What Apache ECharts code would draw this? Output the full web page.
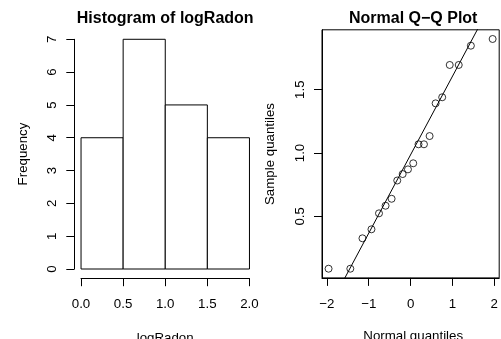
<!DOCTYPE html>
<html>
<head>
<meta charset="utf-8">
<script src="https://cdn.jsdelivr.net/npm/echarts@6/dist/echarts.min.js"></script>
<style>
html,body{margin:0;padding:0;background:#fff;overflow:hidden;}
#c{width:501px;height:339px;}
</style>
</head>
<body>
<div id="c"></div>
<script>
// ---- data ----
const histBreaks = [0, 0.5, 1.0, 1.5, 2.0];
const histCounts = [4, 7, 5, 4];
const histXTicks = [0, 0.5, 1.0, 1.5, 2.0];
const histYTicks = [0, 1, 2, 3, 4, 5, 6, 7];
// sorted sample values (logRadon)
const sampleQuantiles = [0.087, 0.087, 0.327, 0.398, 0.524, 0.584, 0.639, 0.783, 0.834, 0.871,
                         0.919, 1.069, 1.069, 1.134, 1.392, 1.440, 1.695, 1.695, 1.847, 1.900];
// theoretical normal quantiles, n = 20
const normalQuantiles = [-1.960, -1.440, -1.150, -0.935, -0.755, -0.598, -0.454, -0.319, -0.189, -0.063,
                         0.063, 0.189, 0.319, 0.454, 0.598, 0.755, 0.935, 1.150, 1.440, 1.960];
const qqXTicks = [-2, -1, 0, 1, 2];
const qqYTicks = [0.5, 1.0, 1.5];

// ---- derived ----
const histData = histCounts.map((c, i) => [histBreaks[i], histBreaks[i + 1], c]);
const qqPoints = sampleQuantiles.map((s, i) => [normalQuantiles[i], s]);
function quantile7(arr, p) {
  const a = arr.slice().sort((x, y) => x - y);
  const h = (a.length - 1) * p, lo = Math.floor(h);
  return a[lo] + (h - lo) * ((a[lo + 1] !== undefined ? a[lo + 1] : a[lo]) - a[lo]);
}
const q1 = quantile7(sampleQuantiles, 0.25), q3 = quantile7(sampleQuantiles, 0.75);
const zq = 0.6744898;
const slope = (q3 - q1) / (2 * zq);
const intercept = q1 + slope * zq;
const qqLine = [[-4, intercept - 4 * slope], [4, intercept + 4 * slope]];

const FONT = 'Liberation Sans, Arial, Helvetica, sans-serif';
const FS = 13.3;
const minusFmt = v => (v < 0 ? '\u2212' + Math.abs(v) : String(v));

const chart = echarts.init(document.getElementById('c'), null, {renderer: 'canvas'});
const axisLineStyle = {color: '#000', width: 1};
const tickBase = {show: true, inside: false, length: 8, lineStyle: {color: '#000', width: 1}};
const labelBase = {color: '#000', fontSize: FS, fontFamily: FONT};

chart.setOption({
  animation: false,
  backgroundColor: '#fff',
  grid: [
    {left: 74.3, top: 30.1, width: 181.9, height: 248.1},   // 0 hist data
    {left: 81, top: 30.1, width: 168.4, height: 248.1},     // 1 hist x axis
    {left: 74.3, top: 39.3, width: 100, height: 229.7},     // 2 hist y axis
    {left: 322, top: 29.8, width: 182.3, height: 248.1, show: true, borderColor: '#000', borderWidth: 1, backgroundColor: 'transparent'} // 3 qq
  ],
  xAxis: [
    {gridIndex: 0, type: 'value', min: -0.08, max: 2.08, show: false},
    {gridIndex: 1, type: 'value', min: 0, max: 2, interval: 0.5, position: 'bottom',
     axisLine: {show: true, onZero: false, lineStyle: axisLineStyle},
     axisTick: tickBase, splitLine: {show: false},
     axisLabel: Object.assign({}, labelBase, {margin: 20, formatter: v => v.toFixed(1), showMinLabel: true, showMaxLabel: true})},
    {gridIndex: 2, type: 'value', min: 0, max: 1, show: false},
    {gridIndex: 3, type: 'value', min: -2.1168, max: 2.1168, position: 'bottom',
     axisLine: {show: true, onZero: false, lineStyle: axisLineStyle},
     axisTick: Object.assign({}, tickBase, {customValues: qqXTicks}),
     splitLine: {show: false},
     axisLabel: Object.assign({}, labelBase, {margin: 20, customValues: qqXTicks, formatter: minusFmt})}
  ],
  yAxis: [
    {gridIndex: 0, type: 'value', min: -0.28, max: 7.28, show: false},
    {gridIndex: 1, type: 'value', min: 0, max: 1, show: false},
    {gridIndex: 2, type: 'value', min: 0, max: 7, interval: 1, position: 'left',
     axisLine: {show: true, onZero: false, lineStyle: axisLineStyle},
     axisTick: tickBase, splitLine: {show: false},
     axisLabel: Object.assign({}, labelBase, {margin: 15, rotate: 90, showMinLabel: true, showMaxLabel: true})},
    {gridIndex: 3, type: 'value', min: 0.0145, max: 1.9725, position: 'left',
     axisLine: {show: true, onZero: false, lineStyle: axisLineStyle},
     axisTick: Object.assign({}, tickBase, {customValues: qqYTicks}),
     splitLine: {show: false},
     axisLabel: Object.assign({}, labelBase, {margin: 15, rotate: 90, customValues: qqYTicks, formatter: v => v.toFixed(1)})}
  ],
  series: [
    {
      type: 'custom', xAxisIndex: 0, yAxisIndex: 0, data: histData,
      encode: {x: [0, 1], y: 2},
      renderItem: function (params, api) {
        const p0 = api.coord([api.value(0), api.value(2)]);
        const p1 = api.coord([api.value(1), 0]);
        return {type: 'rect', shape: {x: p0[0], y: p0[1], width: p1[0] - p0[0], height: p1[1] - p0[1]},
                style: {fill: '#fff', stroke: '#000', lineWidth: 1}};
      }
    },
    {
      type: 'line', xAxisIndex: 3, yAxisIndex: 3, data: qqLine, clip: true,
      symbol: 'none', lineStyle: {color: '#000', width: 1}, z: 2
    },
    {
      type: 'scatter', xAxisIndex: 3, yAxisIndex: 3, data: qqPoints, clip: false,
      symbol: 'circle', symbolSize: 7,
      itemStyle: {color: 'transparent', borderColor: '#000', borderWidth: 1}, z: 3
    }
  ],
  graphic: [
    {type: 'text', x: 165.2, y: 19, style: {text: 'Histogram of logRadon', fill: '#000', font: 'bold 16px ' + FONT, textAlign: 'center', textVerticalAlign: 'middle'}},
    {type: 'text', x: 413.2, y: 19, style: {text: 'Normal Q\u2212Q Plot', fill: '#000', font: 'bold 16px ' + FONT, textAlign: 'center', textVerticalAlign: 'middle'}},
    {type: 'text', x: 165.2, y: 332, style: {text: 'logRadon', fill: '#000', font: FS + 'px ' + FONT, textAlign: 'center', textVerticalAlign: 'top'}},
    {type: 'text', x: 413.2, y: 330, style: {text: 'Normal quantiles', fill: '#000', font: FS + 'px ' + FONT, textAlign: 'center', textVerticalAlign: 'top'}},
    {type: 'text', x: 23, y: 154, rotation: Math.PI / 2, style: {text: 'Frequency', fill: '#000', font: FS + 'px ' + FONT, textAlign: 'center', textVerticalAlign: 'middle'}},
    {type: 'text', x: 270, y: 154, rotation: Math.PI / 2, style: {text: 'Sample quantiles', fill: '#000', font: FS + 'px ' + FONT, textAlign: 'center', textVerticalAlign: 'middle'}}
  ]
});
</script>
</body>
</html>
